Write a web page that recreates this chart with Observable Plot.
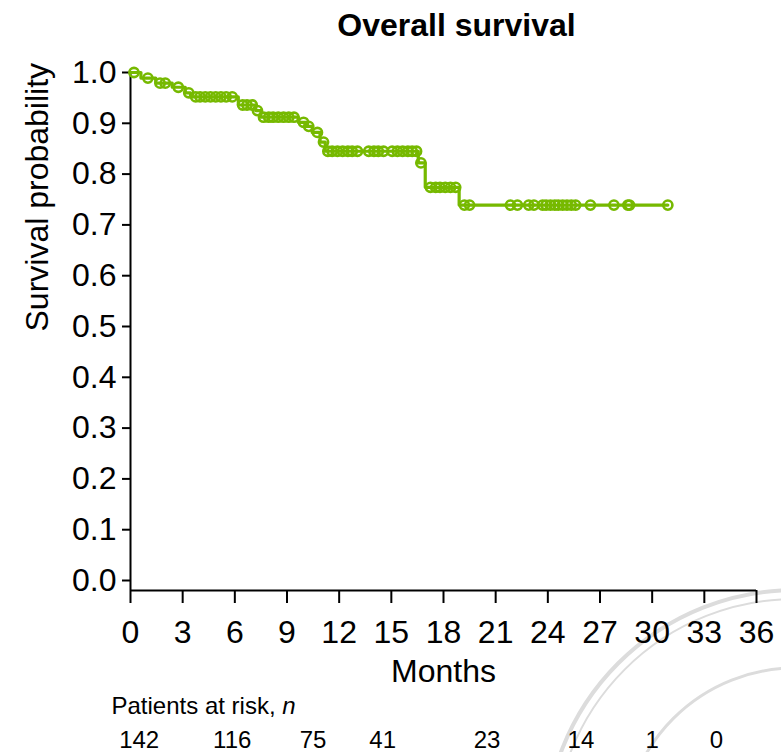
<!DOCTYPE html>
<html>
<head>
<meta charset="utf-8">
<script src="https://cdn.jsdelivr.net/npm/d3@7"></script>
<script src="https://cdn.jsdelivr.net/npm/@observablehq/plot@0.6"></script>
<style>
  html, body { margin: 0; padding: 0; background: #fff; }
  #chart svg { display: block; }
</style>
</head>
<body>
<div id="chart"></div>
<script>
// ---------- data ----------
const title = "Overall survival";
const yLabel = "Survival probability";
const xLabel = "Months";
const xTicks = [0, 3, 6, 9, 12, 15, 18, 21, 24, 27, 30, 33, 36];
const yTicks = [0, 0.1, 0.2, 0.3, 0.4, 0.5, 0.6, 0.7, 0.8, 0.9, 1.0];

// Kaplan–Meier step drops (month of event, survival after it)
const eventMonths   = [0.6, 1.45, 2.4, 3.15, 3.45, 6.2, 7.2, 7.5, 9.65, 10.1, 10.45, 10.9, 11.2, 16.55, 16.95, 18.9];
const eventSurvival = [0.989, 0.979, 0.971, 0.960, 0.952, 0.936, 0.925, 0.912, 0.902, 0.894, 0.882, 0.863, 0.845, 0.822, 0.774, 0.739];
const endMonth = 30.9;

// censored observations (months)
const censorMonths = [0.2, 1.0, 1.7, 2.0, 2.75, 3.35, 3.75, 4.0, 4.3, 4.6, 4.9, 5.2, 5.5, 5.85,
  6.45, 6.7, 7.0, 7.3, 7.65, 7.95, 8.2, 8.5, 8.8, 9.1, 9.4, 9.95, 10.25, 10.75, 11.1,
  11.35, 11.6, 11.9, 12.2, 12.5, 12.75, 13.05, 13.7, 14.0, 14.25, 14.55,
  15.05, 15.35, 15.65, 15.95, 16.2, 16.45, 16.7, 17.25, 17.55, 17.8, 18.1, 18.4, 18.7,
  19.2, 19.5, 21.85, 22.25, 22.9, 23.2, 23.7, 23.9, 24.15, 24.4, 24.6, 24.85, 25.1,
  25.35, 25.6, 26.45, 27.8, 28.6, 28.7, 30.9];

// patients-at-risk table
const riskHeader = "Patients at risk, ";
const riskHeaderItalic = "n";
const riskCounts = [142, 116, 75, 41, 23, 14, 1, 0];
const riskMonths = [0.5, 5.85, 10.5, 14.5, 20.5, 25.9, 30.0, 33.7];

// ---------- derived tables ----------
const green = "#76b900";
const font = "'Liberation Sans', Arial, Helvetica, sans-serif";

function survivalAt(t) {
  let s = 1;
  for (let i = 0; i < eventMonths.length; i++) if (eventMonths[i] <= t) s = eventSurvival[i];
  return s;
}
const curve = [{t: 0, s: 1}]
  .concat(eventMonths.map((t, i) => ({t, s: eventSurvival[i]})))
  .concat([{t: endMonth, s: survivalAt(endMonth)}]);
const censors = censorMonths.map(t => ({t, s: survivalAt(t)}));
const risk = riskCounts.map((n, i) => ({n, t: riskMonths[i]}));

const plot = Plot.plot({
  width: 781,
  height: 752,
  marginTop: 72,
  marginLeft: 130,
  marginRight: 25,
  marginBottom: 162,
  style: {fontFamily: font, fontSize: "32px", color: "#000", background: "#fff", overflow: "visible"},
  x: {domain: [0, 36]},
  y: {domain: [0, 1], range: [580, 72]},
  marks: [
    Plot.axisX(xTicks, {tickSize: 13, tickPadding: 17, strokeWidth: 2, fontSize: 32, label: null, tickFormat: d => String(d)}),
    Plot.axisY(yTicks, {tickSize: 8, tickPadding: 6, strokeWidth: 2, fontSize: 32, label: null, tickFormat: d3.format(".1f")}),
    Plot.ruleX([0], {stroke: "#000", strokeWidth: 2}),
    Plot.ruleY([0], {stroke: "#000", strokeWidth: 2, dy: 10}),
    Plot.line(curve, {x: "t", y: "s", curve: "step-after", stroke: green, strokeWidth: 3.2}),
    Plot.dot(censors, {x: "t", y: "s", r: 4.6, stroke: green, strokeWidth: 2.6, fill: "none"}),
    Plot.text([title], {frameAnchor: "top", dx: 13, dy: -59, fontSize: 32, fontWeight: "bold", fill: "#000"}),
    Plot.text([yLabel], {frameAnchor: "left", dx: -93, rotate: -90, fontSize: 32, fill: "#000"}),
    Plot.text([xLabel], {frameAnchor: "bottom", dy: 91, fontSize: 32, fill: "#000"}),
    Plot.text([riskHeader], {frameAnchor: "bottom-left", textAnchor: "start", dx: -19, dy: 123, fontSize: 24, fill: "#000"}),
    Plot.text(risk, {x: "t", text: "n", frameAnchor: "bottom", dy: 157, fontSize: 24, fill: "#000"})
  ]
});

// italic "n" after the risk header
d3.select(plot).selectAll("text").filter(function() { return this.textContent === riskHeader; })
  .each(function() {
    d3.select(this).append("tspan").attr("font-style", "italic").text(riskHeaderItalic);
  });

// faint seal watermark in the bottom-right corner (decorative, behind the chart)
const svg = d3.select(plot);
const wm = svg.insert("g", ":first-child").attr("fill", "none").attr("stroke", "#dcdcdc");
const cx = 795, cy = 840;
wm.append("circle").attr("cx", cx).attr("cy", cy).attr("r", 250).attr("stroke-width", 4);
wm.append("circle").attr("cx", cx).attr("cy", cy).attr("r", 241).attr("stroke-width", 2);
wm.append("circle").attr("cx", cx).attr("cy", cy).attr("r", 172).attr("stroke-width", 3);

document.getElementById("chart").append(plot);
</script>
</body>
</html>
